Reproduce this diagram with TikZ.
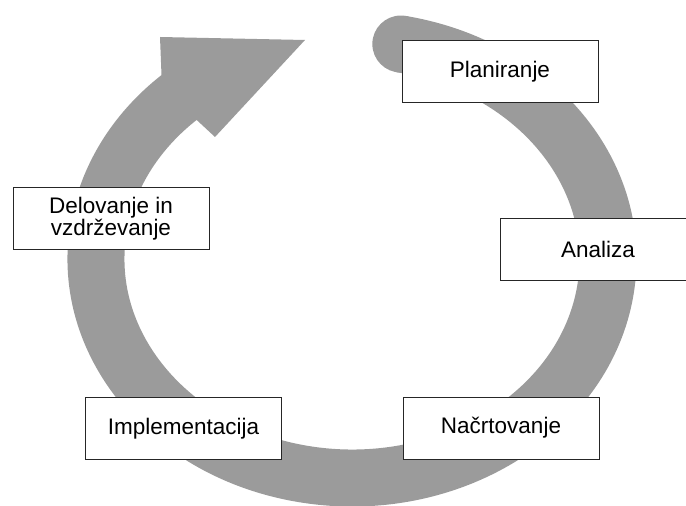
\documentclass[tikz,border=0pt]{standalone}
\usepackage{fontspec}
\setmainfont{Liberation Sans}
\definecolor{cyclegray}{RGB}{155,155,155}
\begin{document}
\begin{tikzpicture}[
  x = 1pt,
  y = 1pt,
  band/.style={
    line width = 57pt,
    color = cyclegray
  },
  stage/.style={
    draw,
    rectangle,
    line width = 0.9pt,
    color = black!85,
    fill = white,
    text = black,
    minimum width = 196pt,
    minimum height = 62pt,
    align = center,
    font = \fontsize{22.5}{22}\selectfont
  }
]%
\useasboundingbox (0,0) rectangle (686,506);
% the grey cycle arrow
\coordinate (centre) at (352,247);
\draw [band] (centre) ++(79:256 and 219) coordinate (start)
  arc [start angle = 79, end angle = -229, x radius = 256, y radius = 219];
\fill [cyclegray] (start) circle [radius = 28.5];
\fill [cyclegray] (161.5,431) -- (160,469) -- (305,466) -- (215,369) -- (196.7,386) -- cycle;
% the stages
\node [stage] (planning) at (500,434.5) {Planiranje};
\node [stage] (analysis) at (598,257) {Analiza};
\node [stage] (design) at (501,78) {Načrtovanje};
\node [stage] (implementation) at (183.5,77.5) {Implementacija};
\node [stage] (maintenance) at (111,287.5) {Delovanje in\\vzdrževanje};
\end{tikzpicture}
\end{document}
